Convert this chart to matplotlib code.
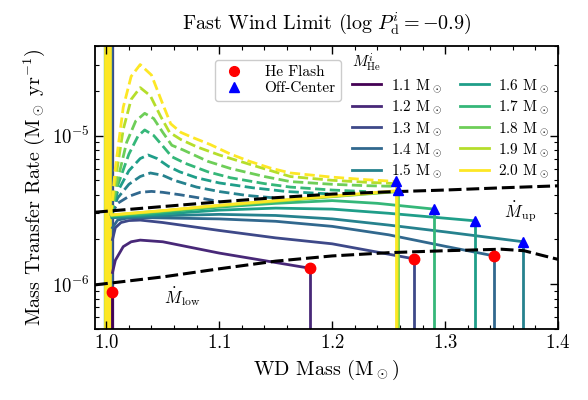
# Fast wind limit: mass transfer rate vs WD mass for several He star masses

import numpy as np
import matplotlib
matplotlib.use("Agg")
import matplotlib.pyplot as plt
from matplotlib.lines import Line2D
from matplotlib.ticker import MultipleLocator, NullFormatter, LogLocator

plt.rcParams["font.family"] = "serif"
plt.rcParams["font.serif"] = ["cmr10"]
plt.rcParams["mathtext.fontset"] = "cm"
plt.rcParams["axes.formatter.use_mathtext"] = True
plt.rcParams["axes.unicode_minus"] = False

# Initial He star masses
m_he = [1.1, 1.2, 1.3, 1.4, 1.5, 1.6, 1.7, 1.8, 1.9, 2.0]

# WD mass where each track starts its vertical climb
start_x = [1.0055, 1.0055, 1.0055, 1.0053, 0.9985, 0.9985, 0.9985, 0.999, 1.0, 1.0015]

# Solid lines (accretion phase)
solid_x = [
    [],
    [1.0055, 1.008, 1.015, 1.022, 1.03, 1.05, 1.1, 1.1805],
    [1.0055, 1.008, 1.013, 1.02, 1.03, 1.05, 1.1, 1.15, 1.2, 1.2728],
    [1.0055, 1.01, 1.02, 1.04, 1.1, 1.15, 1.2, 1.25, 1.3, 1.3434],
    [1.005, 1.03, 1.06, 1.1, 1.15, 1.2, 1.25, 1.3, 1.3693],
    [1.005, 1.03, 1.06, 1.1, 1.15, 1.2, 1.25, 1.3265],
    [1.005, 1.03, 1.06, 1.1, 1.15, 1.2, 1.24, 1.2903],
    [1.005, 1.05, 1.1, 1.15, 1.2, 1.2587],
    [1.005, 1.05, 1.1, 1.15, 1.2, 1.2576],
    [1.005, 1.05, 1.1, 1.15, 1.2, 1.2566],
]
solid_y = [
    [],
    [1.2e-6, 1.45e-6, 1.79e-6, 1.93e-6, 1.98e-6, 1.93e-6, 1.62e-6, 1.28e-6],
    [2.0e-6, 2.4e-6, 2.6e-6, 2.68e-6, 2.7e-6, 2.6e-6, 2.3e-6, 2.05e-6, 1.87e-6, 1.48e-6],
    [2.4e-6, 2.7e-6, 2.8e-6, 2.8e-6, 2.75e-6, 2.65e-6, 2.45e-6, 2.15e-6, 1.8e-6, 1.55e-6],
    [2.8e-6, 2.85e-6, 2.9e-6, 2.95e-6, 2.9e-6, 2.75e-6, 2.5e-6, 2.25e-6, 1.93e-6],
    [2.85e-6, 2.9e-6, 3.0e-6, 3.15e-6, 3.25e-6, 3.2e-6, 3.0e-6, 2.67e-6],
    [2.88e-6, 2.95e-6, 3.1e-6, 3.3e-6, 3.5e-6, 3.65e-6, 3.5e-6, 3.2e-6],
    [2.9e-6, 3.1e-6, 3.35e-6, 3.6e-6, 3.88e-6, 4.2e-6],
    [2.92e-6, 3.12e-6, 3.38e-6, 3.63e-6, 3.9e-6, 4.22e-6],
    [2.93e-6, 3.13e-6, 3.4e-6, 3.65e-6, 3.92e-6, 4.25e-6],
]

# Dashed lines (mass transfer rate above the upper limit)
dashed_x = [
    [], [], [],
    [1.004, 1.01, 1.02, 1.03, 1.04, 1.05, 1.065, 1.083, 1.1],
    [1.004, 1.01, 1.02, 1.03, 1.039, 1.05, 1.06, 1.08, 1.1, 1.125, 1.15],
    [1.004, 1.01, 1.02, 1.03, 1.037, 1.045, 1.055, 1.065, 1.08, 1.1, 1.13, 1.16, 1.2],
    [1.004, 1.01, 1.02, 1.028, 1.034, 1.042, 1.05, 1.058, 1.07, 1.09, 1.11, 1.14, 1.163, 1.2, 1.23],
    [1.004, 1.01, 1.018, 1.026, 1.034, 1.042, 1.05, 1.058, 1.068, 1.09, 1.11, 1.14, 1.163, 1.2, 1.23, 1.2576],
    [1.004, 1.008, 1.015, 1.022, 1.03, 1.039, 1.048, 1.056, 1.066, 1.08, 1.1, 1.13, 1.163, 1.2, 1.23, 1.2576],
    [1.004, 1.008, 1.015, 1.022, 1.03, 1.04, 1.049, 1.057, 1.066, 1.075, 1.092, 1.11, 1.127, 1.145, 1.163, 1.2, 1.23, 1.2566],
]
dashed_y = [
    [], [], [],
    [2.9e-6, 3.5e-6, 3.9e-6, 4.15e-6, 4.21e-6, 4.15e-6, 4.0e-6, 3.8e-6, 3.6e-6],
    [2.9e-6, 3.8e-6, 4.7e-6, 5.3e-6, 5.6e-6, 5.4e-6, 5.0e-6, 4.5e-6, 4.2e-6, 3.95e-6, 3.8e-6],
    [2.9e-6, 4.2e-6, 5.8e-6, 7.0e-6, 7.4e-6, 7.0e-6, 6.2e-6, 5.7e-6, 5.2e-6, 4.8e-6, 4.45e-6, 4.2e-6, 4.04e-6],
    [2.9e-6, 4.6e-6, 7.5e-6, 9.9e-6, 1.09e-5, 1.0e-5, 8.5e-6, 7.2e-6, 6.5e-6, 5.7e-6, 5.2e-6, 4.75e-6, 4.5e-6, 4.3e-6, 4.2e-6],
    [2.9e-6, 5.0e-6, 9.0e-6, 1.25e-5, 1.41e-5, 1.3e-5, 1.05e-5, 8.6e-6, 8.0e-6, 6.7e-6, 6.0e-6, 5.3e-6, 4.9e-6, 4.7e-6, 4.6e-6, 4.55e-6],
    [2.9e-6, 5.0e-6, 1.1e-5, 1.75e-5, 2.1e-5, 1.85e-5, 1.35e-5, 1.05e-5, 9.4e-6, 8.4e-6, 7.4e-6, 6.3e-6, 5.3e-6, 5.0e-6, 4.85e-6, 4.75e-6],
    [2.9e-6, 6.0e-6, 1.55e-5, 2.5e-5, 3.0e-5, 2.55e-5, 1.7e-5, 1.2e-5, 1.05e-5, 9.8e-6, 8.7e-6, 7.5e-6, 6.7e-6, 6.05e-6, 5.6e-6, 5.25e-6, 5.05e-6, 4.91e-6],
]

# Final point of each track (the rate drops afterwards)
end_x = [1.005, 1.1805, 1.2728, 1.3434, 1.3693, 1.3265, 1.2903, 1.2587, 1.2576, 1.2566]
end_y = [8.9e-7, 1.28e-6, 1.48e-6, 1.55e-6, 1.93e-6, 2.67e-6, 3.2e-6, 4.55e-6, 4.75e-6, 4.91e-6]

# He flash and off-center ignition points
flash_x = [1.005, 1.1805, 1.2728, 1.3434]
flash_y = [8.9e-7, 1.28e-6, 1.48e-6, 1.55e-6]
offc_x = [1.3693, 1.3265, 1.2903, 1.2587, 1.2566]
offc_y = [1.93e-6, 2.67e-6, 3.2e-6, 4.31e-6, 4.91e-6]

# Critical accretion rates
mdot_up_x = [0.99, 1.05, 1.1, 1.15, 1.2, 1.25, 1.3, 1.35, 1.4]
mdot_up_y = [3.05e-6, 3.33e-6, 3.58e-6, 3.82e-6, 4.04e-6, 4.18e-6, 4.3e-6, 4.45e-6, 4.59e-6]
mdot_low_x = [0.99, 1.05, 1.1, 1.15, 1.2, 1.25, 1.3, 1.35, 1.37, 1.385, 1.4]
mdot_low_y = [9.9e-7, 1.12e-6, 1.27e-6, 1.43e-6, 1.55e-6, 1.63e-6, 1.68e-6, 1.72e-6, 1.68e-6, 1.57e-6, 1.47e-6]

colors = plt.cm.viridis(np.linspace(0, 1, len(m_he)))

fig = plt.figure(figsize=(5.88, 4.0), dpi=100)
ax = fig.add_axes([0.1616, 0.1775, 0.7874, 0.7075])
ax.set_yscale("log")
ax.set_xlim(0.99, 1.4)
ax.set_ylim(5e-7, 4e-5)
ybot, ytop = 1e-7, 1e-4

for i, c in enumerate(colors):
    # initial climb at fixed WD mass
    lw_start = 5.5 if i == len(m_he) - 1 else 1.5
    ax.vlines(start_x[i], ybot, ytop, color=c, lw=lw_start, zorder=1 + i * 0.01)
    if solid_x[i]:
        ax.plot(solid_x[i], solid_y[i], "-", color=c, lw=2, zorder=2 + i * 0.01)
    if dashed_x[i]:
        ax.plot(dashed_x[i], dashed_y[i], "--", color=c, lw=2, zorder=2 + i * 0.01)
    # rate drops at the end of the run
    ax.vlines(end_x[i], ybot, end_y[i], color=c, lw=2, zorder=2 + i * 0.01)

ax.plot(mdot_up_x, mdot_up_y, "k--", lw=2.2, dashes=(4.2, 1.6), zorder=3)
ax.plot(mdot_low_x, mdot_low_y, "k--", lw=2.2, dashes=(4.2, 1.6), zorder=3)

ax.plot(flash_x, flash_y, "o", color="red", ms=7.5, ls="none", zorder=4, clip_on=False)
ax.plot(offc_x, offc_y, "^", color="blue", ms=7.5, ls="none", zorder=4)

ax.text(1.051, 8.3e-7, r"$\dot M_{\rm low}$", fontsize=12, va="center")
ax.text(1.352, 3.07e-6, r"$\dot M_{\rm up}$", fontsize=12, va="center")

# Legends
marker_handles = [
    Line2D([], [], marker="o", color="red", ls="none", ms=7, label="He Flash"),
    Line2D([], [], marker="^", color="blue", ls="none", ms=7, label="Off-Center"),
]
leg1 = ax.legend(handles=marker_handles, loc="upper left", bbox_to_anchor=(0.259, 0.95),
                 borderaxespad=0, fontsize=11, framealpha=1, borderpad=0.35,
                 handlelength=1.8, handletextpad=1.1, labelspacing=0.15)
ax.add_artist(leg1)

mass_handles = [Line2D([], [], color=c, lw=2, label=rf"{m:.1f} $\mathrm{{M}}_\odot$")
                for m, c in zip(m_he, colors)]
leg2 = ax.legend(handles=mass_handles, loc="upper left", bbox_to_anchor=(0.556, 0.98),
                 borderaxespad=0, borderpad=0, ncol=2, fontsize=11, frameon=False,
                 title=r"$M_{\rm He}^i$", title_fontsize=11, alignment="left",
                 handlelength=1.9, handletextpad=0.6, columnspacing=1.2,
                 labelspacing=0.25)

ax.set_title(r"Fast Wind Limit ($\log\,P_{\rm d}^i = -0.9$)", fontsize=14.5, pad=12)
ax.set_xlabel(r"WD Mass ($\mathrm{M}_\odot$)", fontsize=14.5)
ax.set_ylabel(r"Mass Transfer Rate ($\mathrm{M}_\odot\ \mathrm{yr}^{-1}$)", fontsize=14.5)

ax.xaxis.set_major_locator(MultipleLocator(0.1))
ax.xaxis.set_minor_locator(MultipleLocator(0.02))
ax.yaxis.set_minor_locator(LogLocator(base=10, subs=np.arange(2, 10)))
ax.yaxis.set_minor_formatter(NullFormatter())
ax.tick_params(which="both", direction="in", top=True, right=True, labelsize=13.5)
ax.tick_params(which="major", length=5.5, width=1)
ax.tick_params(which="minor", length=3, width=0.8)
for s in ax.spines.values():
    s.set_linewidth(1.3)

fig.savefig("out.png", dpi=100)
